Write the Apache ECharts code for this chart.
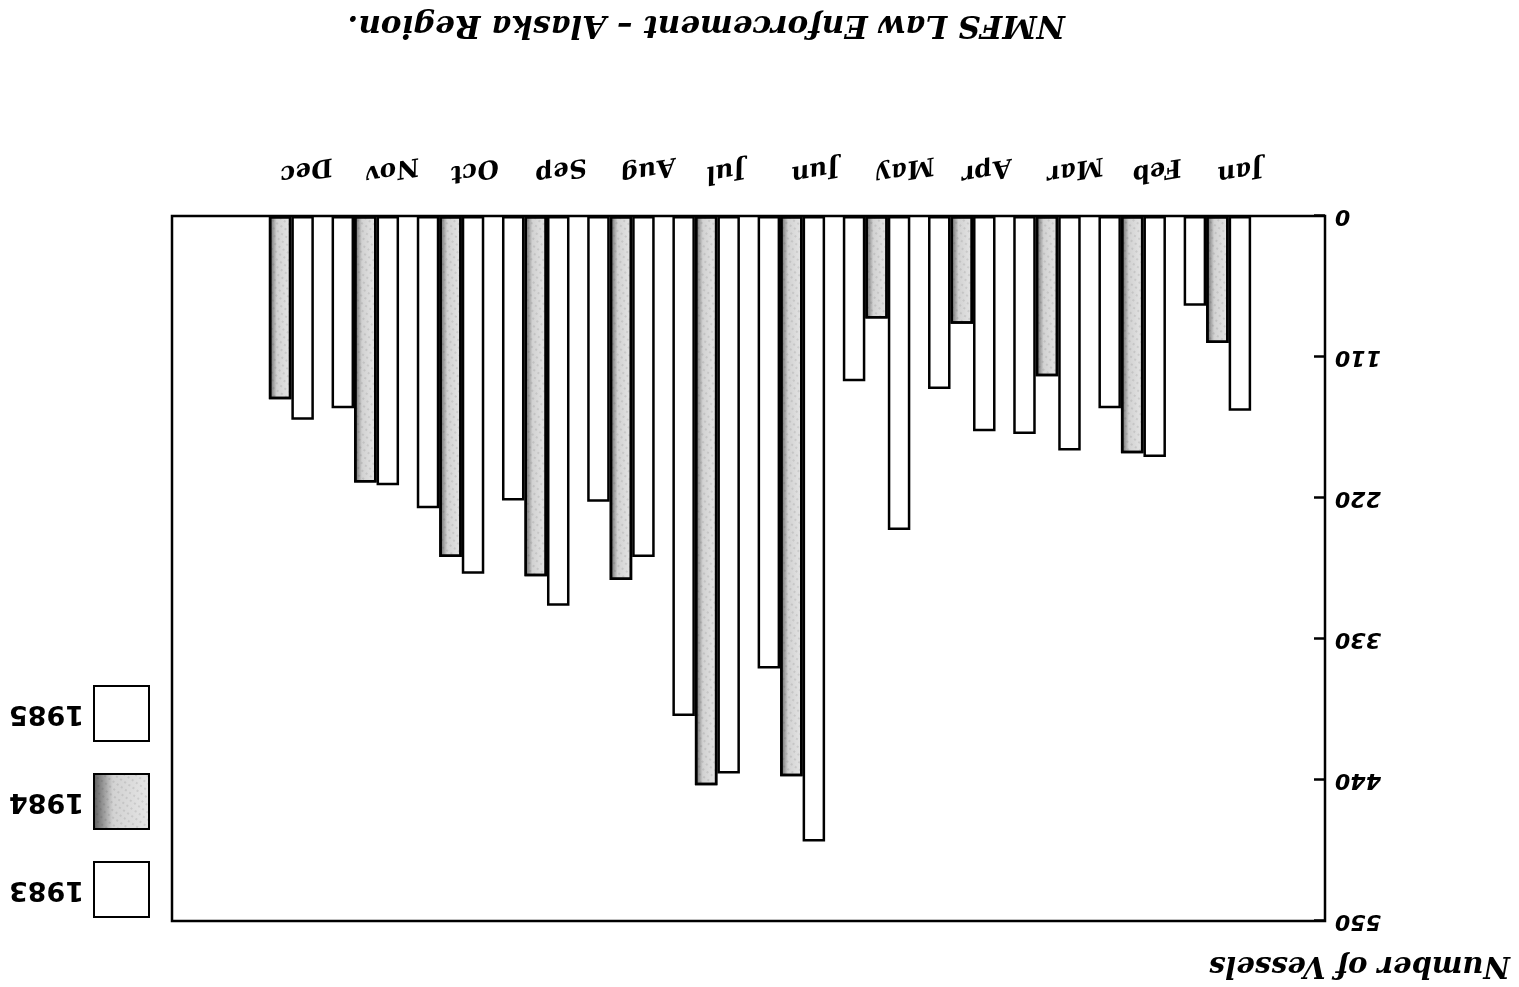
<!DOCTYPE html>
<html>
<head>
<meta charset="utf-8">
<title>NMFS Law Enforcement - Alaska Region</title>
<script src="https://cdn.jsdelivr.net/npm/echarts@6/dist/echarts.min.js"></script>
<style>
  html, body { margin: 0; padding: 0; background: #fff; }
  /* the scanned page is upside down, so the whole chart is turned round */
  #wrap { width: 1519px; height: 987px; transform: rotate(180deg); }
  #chart { width: 1519px; height: 987px; }
</style>
</head>
<body>
<div id="wrap"><div id="chart"></div></div>
<script>
const months = ['Jan', 'Feb', 'Mar', 'Apr', 'May', 'Jun', 'Jul', 'Aug', 'Sep', 'Oct', 'Nov', 'Dec']
const years = ['1983', '1984', '1985']
const vessels1983 = [152, 188, 183, 168, 245, 488, 435, 266, 304, 279, 210, 159]
const vessels1984 = [99, 185, 125, 84, 80, 437, 444, 284, 281, 266, 208, 143]
const vessels1985 = [70, 150, 170, 135, 129, 353, 390, 223, 222, 228, 150, null]
const yTicks = [0, 110, 220, 330, 440, 550]

const myChart = echarts.init(document.getElementById('chart'), null, { renderer: 'canvas' })

const whiteBar = {
	color: '#ffffff',
	borderColor: '#000000',
	borderWidth: 2.5
}

// stippled grey fill of the 1984 bars
const stippleBar = {
	color: {
		type: 'linear',
		x: 0, y: 0, x2: 1, y2: 0,
		colorStops: [
			{ offset: 0, color: '#e6e6e6' },
			{ offset: 0.65, color: '#d2d2d2' },
			{ offset: 1, color: '#5a5a5a' }
		]
	},
	borderColor: '#000000',
	borderWidth: 2.5,
	decal: {
		symbol: 'rect',
		symbolSize: 0.6,
		dashArrayX: [2, 3],
		dashArrayY: [2, 4],
		rotation: 0.6,
		color: 'rgba(0,0,0,0.3)'
	}
}

const makeSeries = (name, data, style) => ({
	name: name,
	type: 'bar',
	xAxisIndex: 1,
	yAxisIndex: 1,
	data: data,
	barWidth: 22.5,
	barGap: '0%',
	itemStyle: style
})

const option = {
	animation: false,
	title: [
		{
			text: 'NMFS Law Enforcement – Alaska Region.',
			left: 449,
			top: 942,
			textStyle: {
				fontFamily: 'DejaVu Serif',
				fontStyle: 'italic',
				fontWeight: 'bold',
				fontSize: 31,
				color: '#000'
			}
		},
		{
			text: 'Number of Vessels',
			left: 4,
			top: 3,
			textStyle: {
				fontFamily: 'DejaVu Serif',
				fontStyle: 'italic',
				fontWeight: 'bold',
				fontSize: 29,
				color: '#000'
			}
		}
	],
	legend: {
		orient: 'vertical',
		left: 1369,
		top: 69,
		padding: 0,
		itemWidth: 55,
		itemHeight: 55,
		itemGap: 31,
		icon: 'rect',
		data: years,
		textStyle: {
			fontFamily: 'DejaVu Sans',
			fontWeight: 'bold',
			fontSize: 27,
			color: '#000',
			padding: [0, 0, 0, 5]
		}
	},
	grid: [
		// frame with the value axis
		{ left: 194, right: 172, top: 66, bottom: 216, show: true, borderColor: '#000', borderWidth: 2.5 },
		// bars sit inset inside the frame
		{ left: 259, right: 237.5, top: 66, bottom: 216 }
	],
	xAxis: [
		{ gridIndex: 0, type: 'value', show: false, min: 0, max: 1 },
		{
			gridIndex: 1,
			type: 'category',
			data: months,
			axisLine: { show: false },
			axisTick: { show: false },
			axisLabel: {
				rotate: 10,
				margin: 42,
				fontFamily: 'DejaVu Serif',
				fontStyle: 'italic',
				fontWeight: 'bold',
				fontSize: 25,
				color: '#000'
			}
		}
	],
	yAxis: [
		{
			gridIndex: 0,
			type: 'value',
			min: yTicks[0],
			max: yTicks[yTicks.length - 1],
			interval: yTicks[1] - yTicks[0],
			splitLine: { show: false },
			axisLine: { show: false },
			axisTick: { show: true, inside: true, length: 11, lineStyle: { color: '#000', width: 2.5 } },
			axisLabel: {
				margin: 10,
				fontFamily: 'DejaVu Sans',
				fontStyle: 'italic',
				fontWeight: 'bold',
				fontSize: 22,
				color: '#000'
			}
		},
		{
			gridIndex: 1,
			type: 'value',
			min: yTicks[0],
			max: yTicks[yTicks.length - 1],
			show: false
		}
	],
	series: [
		makeSeries('1983', vessels1983, whiteBar),
		makeSeries('1984', vessels1984, stippleBar),
		makeSeries('1985', vessels1985, whiteBar)
	]
}

myChart.setOption(option)
</script>
</body>
</html>
